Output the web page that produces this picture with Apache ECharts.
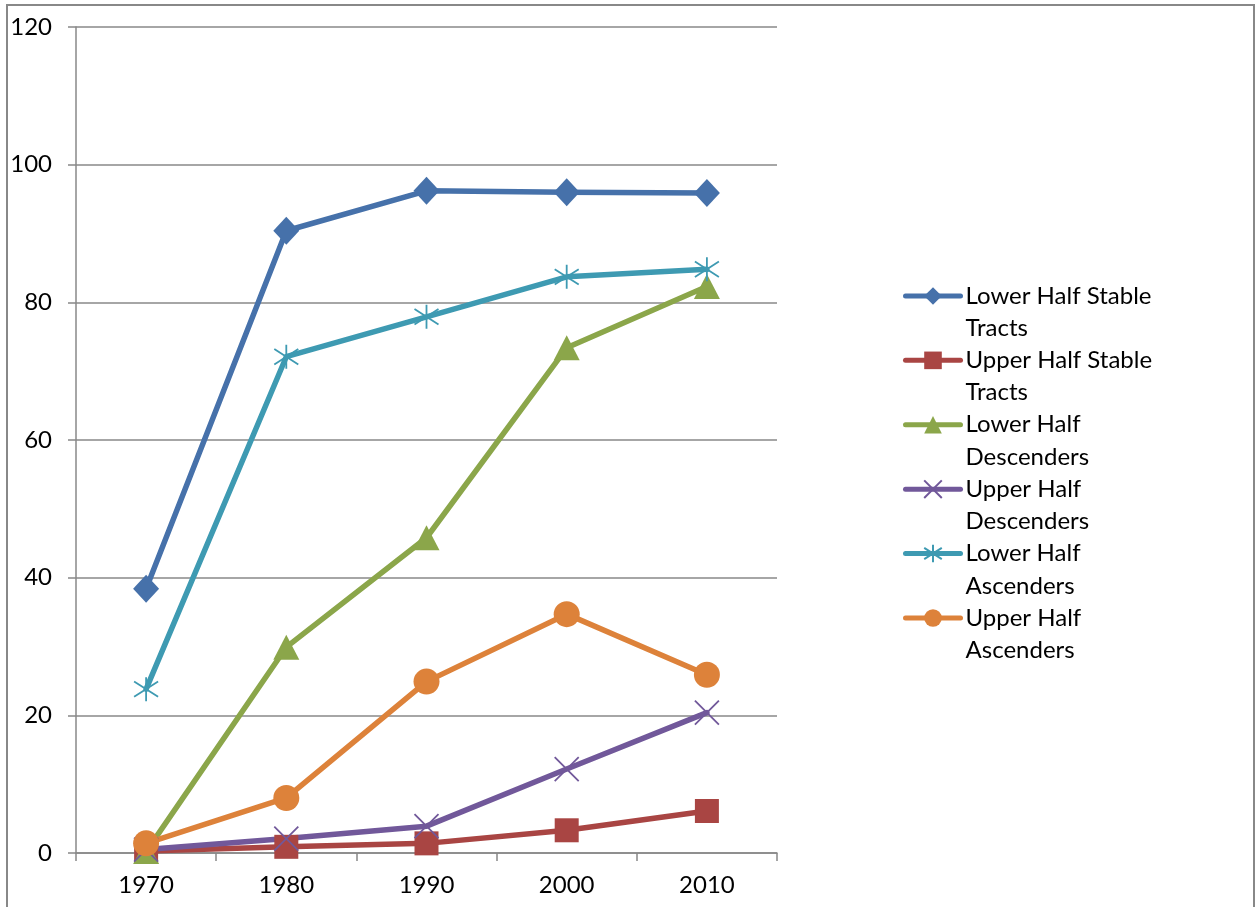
<!DOCTYPE html>
<html>
<head>
<meta charset="utf-8">
<script src="https://cdn.jsdelivr.net/npm/echarts@6/dist/echarts.min.js"></script>
<style>
  html, body { margin: 0; padding: 0; background: #fff; }
  #chart { width: 1255px; height: 907px; }
</style>
</head>
<body>
<div id="chart"></div>
<script>
// Census decades on the category axis
const years = ['1970', '1980', '1990', '2000', '2010'];

// Share of tracts (%) per group and decade
const lowerHalfStable      = [38.4, 90.4, 96.2, 96.0, 95.9];
const upperHalfStable      = [0.3, 0.9, 1.4, 3.3, 6.1];
const lowerHalfDescenders  = [0.2, 29.9, 45.8, 73.4, 82.3];
const upperHalfDescenders  = [0.5, 2.1, 3.9, 12.2, 20.4];
const lowerHalfAscenders   = [23.8, 72.1, 77.9, 83.7, 84.8];
const upperHalfAscenders   = [1.4, 8.0, 24.9, 34.7, 25.9];

const seriesNames = [
  'Lower Half Stable Tracts',
  'Upper Half Stable Tracts',
  'Lower Half Descenders',
  'Upper Half Descenders',
  'Lower Half Ascenders',
  'Upper Half Ascenders'
];
// Legend text, wrapped onto two lines
const legendLines = [
  ['Lower Half Stable', 'Tracts'],
  ['Upper Half Stable', 'Tracts'],
  ['Lower Half', 'Descenders'],
  ['Upper Half', 'Descenders'],
  ['Lower Half', 'Ascenders'],
  ['Upper Half', 'Ascenders']
];
const yTicks = [0, 20, 40, 60, 80, 100, 120];

const FONT = 'Lato';
const FONT_SIZE = 24;
const GRID_GRAY = '#888888';

// Stroke-only marker shapes
const X_MARK = 'path://M0 0L10 10M10 0L0 10';
const STAR_MARK = 'path://M0 1.8L10 8.2M10 1.8L0 8.2M5 0L5 10';

function lineSeries(name, data, color, symbol, size, stroked) {
  return {
    name: name,
    type: 'line',
    data: data,
    symbol: symbol,
    symbolSize: size,
    showAllSymbol: true,
    lineStyle: { color: color, width: 5.5, cap: 'round', join: 'round' },
    itemStyle: stroked
      ? { color: 'rgba(0,0,0,0)', borderColor: color, borderWidth: 1.8, opacity: 1 }
      : { color: color, borderWidth: 0 },
    emphasis: { disabled: true }
  };
}

const chart = echarts.init(document.getElementById('chart'), null, { renderer: 'canvas' });

chart.setOption({
  animation: false,
  backgroundColor: '#ffffff',
  textStyle: { fontFamily: FONT },
  graphic: [{
    type: 'rect',
    silent: true,
    shape: { x: 7, y: 5, width: 1247, height: 940 },
    style: { fill: 'none', stroke: GRID_GRAY, lineWidth: 2 }
  }],
  grid: { left: 76, right: 478, top: 27, bottom: 54, containLabel: false },
  legend: {
    orient: 'vertical',
    left: 903,
    top: 247.5,
    padding: 0,
    itemWidth: 55,
    itemHeight: 22,
    itemGap: -32.5,
    selectedMode: false,
    data: seriesNames,
    // a blank leading line keeps the icon level with the first text line
    formatter: function (name) {
      return '\n' + legendLines[seriesNames.indexOf(name)].join('\n');
    },
    lineStyle: { width: 5, cap: 'round' },
    textStyle: {
      fontFamily: FONT,
      fontSize: FONT_SIZE,
      color: '#000',
      lineHeight: 32.3
    }
  },
  xAxis: {
    type: 'category',
    data: years,
    boundaryGap: true,
    axisLine: { lineStyle: { color: GRID_GRAY, width: 1.5 } },
    axisTick: { show: true, length: 8, alignWithLabel: false, lineStyle: { color: GRID_GRAY, width: 1.5 } },
    axisLabel: { margin: 20, fontFamily: FONT, fontSize: FONT_SIZE, color: '#000' },
    splitLine: { show: false }
  },
  yAxis: {
    type: 'value',
    min: yTicks[0],
    max: yTicks[yTicks.length - 1],
    interval: yTicks[1] - yTicks[0],
    axisLine: { show: true, lineStyle: { color: GRID_GRAY, width: 1.5 } },
    axisTick: { show: true, length: 8, lineStyle: { color: GRID_GRAY, width: 1.5 } },
    axisLabel: { margin: 24, fontFamily: FONT, fontSize: FONT_SIZE, color: '#000' },
    splitLine: { show: true, lineStyle: { color: GRID_GRAY, width: 1.5 } }
  },
  series: [
    lineSeries(seriesNames[0], lowerHalfStable, '#4671AA', 'diamond', [26, 28], false),
    lineSeries(seriesNames[1], upperHalfStable, '#A94543', 'rect', 24, false),
    lineSeries(seriesNames[2], lowerHalfDescenders, '#8BA64A', 'triangle', [26, 25], false),
    lineSeries(seriesNames[3], upperHalfDescenders, '#71589A', X_MARK, 24, true),
    lineSeries(seriesNames[4], lowerHalfAscenders, '#3E9AB2', STAR_MARK, 24, true),
    lineSeries(seriesNames[5], upperHalfAscenders, '#DD823A', 'circle', 26, false)
  ]
});
</script>
</body>
</html>
